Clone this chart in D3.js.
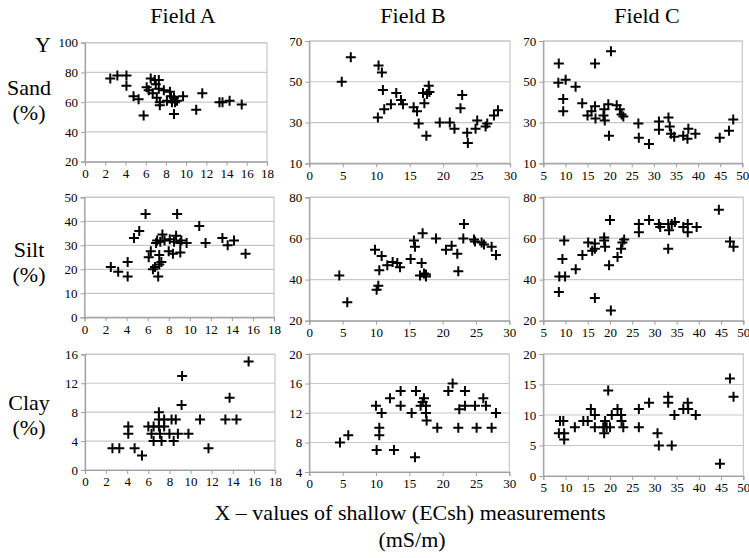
<!DOCTYPE html>
<html>
<head>
<meta charset="utf-8">
<script src="https://cdn.jsdelivr.net/npm/d3@7"></script>
<style>
  body { margin: 0; background: #fff; }
  svg text { font-family: "Liberation Serif", "Tinos", "DejaVu Serif", serif; }
</style>
</head>
<body>
<div id="chart"></div>
<script>
// values, [x, y]
var sandA = [[2.5,76],[3.2,78],[4.1,78],[4.1,71],[4.8,64],[5.3,62],[5.8,51],[6.1,70],[6.3,68],[6.5,76],[6.9,75],[6.7,66],[7.0,72],[7.1,63],[7.3,69],[7.4,60],[7.3,75],[7.4,58],[7.8,68],[8.1,61],[8.4,67],[8.5,64],[8.6,60],[8.8,63],[8.9,60],[8.8,52],[9.1,61],[9.7,64],[11.0,55],[11.6,66],[13.3,60],[13.6,60],[14.3,61],[15.5,58.5]];
var siltA = [[2.5,21],[3.2,19],[4.1,23],[4.1,17],[4.7,33],[5.2,36],[5.8,43],[6.1,25],[6.3,27.5],[6.5,20],[6.7,21],[6.8,31],[6.9,32],[7.0,17],[7.1,26],[7.1,22],[7.3,23],[7.2,31.5],[7.4,34.5],[7.6,32],[8.0,27.5],[8.1,32.5],[8.4,26.5],[8.5,31.5],[8.7,34],[8.8,43],[9.1,27],[9.1,31],[9.2,32],[9.7,31],[10.9,38],[11.5,31],[13.1,33],[13.6,30],[14.2,32],[15.3,26.5]];
var clayA = [[2.6,3],[3.25,3],[4.1,6],[4.1,5],[4.7,3],[5.4,2],[6.0,6],[6.3,5],[6.5,6],[6.5,4],[7.0,8],[7.0,7],[7.0,6],[7.1,5],[7.25,4],[7.5,6],[7.5,7],[8.0,5],[8.2,7],[8.6,7],[8.4,4],[8.8,5],[9.15,9],[9.2,13],[9.8,5],[10.9,7],[11.7,3],[13.3,7],[13.7,10],[14.35,7],[15.5,15]];

var sandB = [[4.85,50],[6.2,62],[10.35,58],[10.85,54.5],[11,46],[10.25,32.5],[11.2,36.5],[12.2,39],[13,44.5],[13.7,41],[14,39],[15.6,37.5],[16.1,35.5],[16.35,29.5],[17,44.5],[17.2,39.5],[17.5,23.5],[17.6,44],[17.85,48],[17.95,45],[19.5,30],[21,30],[21.7,27],[22.6,37],[22.85,43.5],[23.6,25],[23.7,20],[24.85,27],[25.1,31],[26.35,28],[26.6,29.5],[27.6,33.5],[28.2,36]];
var siltB = [[4.5,42],[5.7,29],[9.85,54.5],[10.1,35],[10.35,37],[10.5,44.5],[10.85,51.5],[11.7,47],[12.5,48.5],[13.2,48],[13.6,46],[15.2,50],[15.7,59],[15.85,56],[16.85,48],[17,62.5],[16.6,42],[17.2,43],[17.5,41.5],[17.5,42.5],[19,60],[20.5,54.5],[21.35,56.5],[22.2,52.5],[22.35,44],[23.2,67],[23.1,60],[24.7,59.5],[24.85,58.5],[25.85,58],[26.2,57],[27.35,56],[28,52]];
var clayB = [[4.6,8],[5.85,9],[10,13],[10.1,7],[10.5,10],[10.5,9],[10.85,12],[12.1,14],[12.7,7],[13.7,13],[13.7,15],[15.35,12],[15.85,6],[16,15],[16.7,13],[17,13.5],[17.2,14],[17.5,13],[17.5,12],[17.6,11],[19.2,10],[20.85,15],[21.5,16],[22.35,10],[22.5,12.5],[23.35,13],[23.35,15],[24.85,13],[25.1,10],[26.1,14],[26.5,13],[27.35,10],[28,12]];

var sandC = [[8.5,59],[8.4,49.5],[9.5,41.5],[9.5,35.5],[10.05,51],[12.3,47.5],[13.8,39.5],[15,33.5],[15.9,35.5],[16.7,38],[16.7,59],[16.8,32],[18.6,33.5],[18.8,36.5],[18.9,31],[19.7,39],[19.85,23.5],[20.3,65],[21.6,38.5],[22.3,36.5],[22.7,34],[23.1,33],[26.5,29.5],[26.6,22.5],[28.9,19.5],[31.15,30.5],[31.15,26.5],[33.3,32.5],[33.6,28],[33.9,24.5],[34.6,23],[36.65,23.5],[37.6,22],[37.8,27],[39.4,24.5],[44.9,22.5],[47,26],[47.95,31.5]];
var siltC = [[8.5,34],[8.6,41.5],[9.3,50],[9.7,59],[9.9,41.5],[12.3,45],[13.8,52],[15.1,58],[16,54],[16.6,55],[16.6,57.5],[16.6,31],[18.7,60.5],[18.7,59],[18.9,56],[19.8,47],[20,69],[20.2,25],[21.7,51],[22.5,55],[22.8,58],[23.2,59.5],[26.5,67],[26.5,63],[28.8,69],[31,67],[31.3,65.5],[33.1,67],[33.3,64],[33.1,55],[33.9,67],[34.6,68],[36.5,65.5],[37.5,67],[37.5,63],[39.5,65.5],[44.5,74],[47,58.5],[47.8,56]];
var clayC = [[8.75,9],[9.5,9],[8.5,7],[9.7,7],[9.7,6],[12.1,8],[14,9],[15,9],[15.7,11],[16.6,10],[16.6,8],[18.5,8],[18.7,7],[18.9,9],[19.25,8],[19.6,14],[20,8],[20.4,10],[21.7,11],[22.5,10],[22.6,9],[23,8],[26.5,11],[26.5,8],[28.8,12],[30.7,7],[31,5],[33.1,12],[33.1,13],[33.9,5],[34.5,10],[36.5,11],[37.5,12],[37.6,11],[39.3,10],[44.75,2],[47,16],[47.8,13]];

// tick values per field (x) and per panel (y)
var xTicksA = [0,2,4,6,8,10,12,14,16,18];
var xTicksB = [0,5,10,15,20,25,30];
var xTicksC = [5,10,15,20,25,30,35,40,45,50];
var yTicksSandA = [20,40,60,80,100];
var yTicksSandBC = [10,30,50,70];
var yTicksSiltA = [0,10,20,30,40,50];
var yTicksSiltBC = [20,40,60,80];
var yTicksClayA = [0,4,8,12,16];
var yTicksClayB = [4,8,12,16,20];
var yTicksClayC = [0,5,10,15,20];

var fields = ["Field A", "Field B", "Field C"];
var rowNames = ["Sand", "Silt", "Clay"];

// panel boxes: [left, right, top, bottom] in px
var panels = [
  {data: sandA, xt: xTicksA, yt: yTicksSandA, box: [85, 267, 42.7, 161.7]},
  {data: sandB, xt: xTicksB, yt: yTicksSandBC, box: [309.3, 510, 41, 163.3]},
  {data: sandC, xt: xTicksC, yt: yTicksSandBC, box: [543.3, 742.3, 41, 163.3]},
  {data: siltA, xt: xTicksA, yt: yTicksSiltA, box: [84.5, 274, 197.3, 317.3]},
  {data: siltB, xt: xTicksB, yt: yTicksSiltBC, box: [309.3, 509.3, 197.3, 320.7]},
  {data: siltC, xt: xTicksC, yt: yTicksSiltBC, box: [543.3, 743.3, 197.3, 320.7]},
  {data: clayA, xt: xTicksA, yt: yTicksClayA, box: [85, 275, 354.3, 470]},
  {data: clayB, xt: xTicksB, yt: yTicksClayB, box: [309.3, 509.3, 354, 472]},
  {data: clayC, xt: xTicksC, yt: yTicksClayC, box: [543.3, 743.3, 354, 476]}
];

var svg = d3.select("#chart").append("svg")
  .attr("width", 749)
  .attr("height", 558);

panels.forEach(function(p) {
  var b = p.box;
  var x = d3.scaleLinear()
    .domain(d3.extent(p.xt))
    .range([b[0], b[1]]);
  var y = d3.scaleLinear()
    .domain(d3.extent(p.yt))
    .range([b[3], b[2]]);
  var g = svg.append("g");

  // frame
  g.append("rect")
    .attr("x", b[0]).attr("y", b[2])
    .attr("width", b[1] - b[0]).attr("height", b[3] - b[2])
    .attr("fill", "none").attr("stroke", "#c8c8c8").attr("stroke-width", 1.2);

  // horizontal grid
  g.selectAll(".grid").data(p.yt).enter().append("line")
    .attr("x1", b[0]).attr("x2", b[1])
    .attr("y1", function(d) { return y(d); })
    .attr("y2", function(d) { return y(d); })
    .attr("stroke", "#c8c8c8").attr("stroke-width", 1.2);

  var xAxis = g.append("g")
    .attr("transform", "translate(0," + b[3] + ")")
    .call(d3.axisBottom(x).tickValues(p.xt).tickSize(4).tickPadding(3));
  var yAxis = g.append("g")
    .attr("transform", "translate(" + b[0] + ",0)")
    .call(d3.axisLeft(y).tickValues(p.yt).tickSize(4).tickPadding(3));

  [xAxis, yAxis].forEach(function(a) {
    a.attr("font-family", null);
    a.select(".domain").attr("stroke", "#a0a0a0").attr("stroke-width", 1.2);
    a.selectAll(".tick line").attr("stroke", "#a0a0a0");
    a.selectAll("text")
      .style("font-size", "13px")
      .attr("fill", "#000");
  });

  // plus markers
  g.selectAll(".pt").data(p.data).enter().append("path")
    .attr("d", function(d) {
      var cx = x(d[0]), cy = y(d[1]), r = 5;
      return "M" + (cx - r) + "," + cy + "H" + (cx + r) + "M" + cx + "," + (cy - r) + "V" + (cy + r);
    })
    .attr("stroke", "#000")
    .attr("stroke-width", 2)
    .attr("fill", "none");
});

// column titles
var titleX = [183, 413, 647];
fields.forEach(function(f, i) {
  svg.append("text")
    .attr("x", titleX[i]).attr("y", 23)
    .attr("text-anchor", "middle")
    .style("font-size", "22px")
    .text(f);
});

// row labels
svg.append("text").attr("x", 43).attr("y", 52)
  .attr("text-anchor", "middle").style("font-size", "22px").text("Y");
var rowY = [95, 257, 410];
rowNames.forEach(function(r, i) {
  svg.append("text").attr("x", 29).attr("y", rowY[i])
    .attr("text-anchor", "middle").style("font-size", "22px").text(r);
  svg.append("text").attr("x", 29).attr("y", rowY[i] + 25)
    .attr("text-anchor", "middle").style("font-size", "22px").text("(%)");
});

// x title
svg.append("text").attr("x", 410).attr("y", 520)
  .attr("text-anchor", "middle").style("font-size", "22px")
  .text("X \u2013 values of shallow (ECsh) measurements");
svg.append("text").attr("x", 412).attr("y", 547)
  .attr("text-anchor", "middle").style("font-size", "22px")
  .text("(mS/m)");
</script>
</body>
</html>
